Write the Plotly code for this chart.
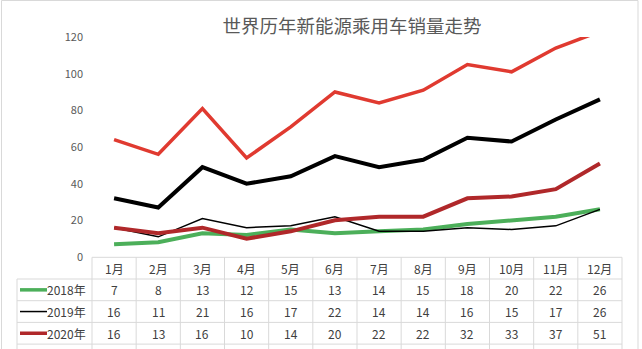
import plotly.graph_objects as go

months = ["1月", "2月", "3月", "4月", "5月", "6月", "7月", "8月", "9月", "10月", "11月", "12月"]
series_names = ["2018年", "2019年", "2020年", "2021年", "2022年"]
sales_2018 = [7, 8, 13, 12, 15, 13, 14, 15, 18, 20, 22, 26]
sales_2019 = [16, 11, 21, 16, 17, 22, 14, 14, 16, 15, 17, 26]
sales_2020 = [16, 13, 16, 10, 14, 20, 22, 22, 32, 33, 37, 51]
sales_2021 = [32, 27, 49, 40, 44, 55, 49, 53, 65, 63, 75, 86]
sales_2022 = [64, 56, 81, 54, 71, 90, 84, 91, 105, 101, 114, 123]
y_ticks = [0, 20, 40, 60, 80, 100, 120]

all_series = [sales_2018, sales_2019, sales_2020, sales_2021, sales_2022]
colors = ["#4caf5a", "#000000", "#b0282a", "#000000", "#e03a30"]
widths = [4, 1.5, 4, 4, 3.5]

W, H = 642, 349
ML, MR, MT, MB = 92, 20, 37, 92
PW, PH = W - ML - MR, H - MT - MB
FONT = "Noto Sans CJK SC, Noto Sans, sans-serif"
GRID = "#d9d9d9"
TXT = "#404040"

# number of table rows that fit on the page below the plot
TABLE_ROWS = 3


def px_x(px):
    return (px - ML) / PW


def px_y(py):
    return (H - MB - py) / PH


n = len(months)
col_w = PW / n
x_idx = list(range(n))

fig = go.Figure()
for name, vals, c, w in zip(series_names, all_series, colors, widths):
    fig.add_trace(go.Scatter(x=x_idx, y=vals, mode="lines", name=name,
                             line=dict(color=c, width=w), showlegend=False,
                             hoverinfo="skip"))

shapes = []
annotations = []

# data table below the plot
row_h = 21.7
top = H - MB + 0.3
row_tops = [top + i * row_h for i in range(TABLE_ROWS + 2)]
label_left = 17
right = ML + PW

# horizontal rules
shapes.append(dict(type="line", xref="paper", yref="paper",
                   x0=px_x(ML), x1=px_x(right), y0=px_y(row_tops[0]), y1=px_y(row_tops[0]),
                   line=dict(color=GRID, width=1)))
for rt in row_tops[1:]:
    shapes.append(dict(type="line", xref="paper", yref="paper",
                       x0=px_x(label_left), x1=px_x(right), y0=px_y(rt), y1=px_y(rt),
                       line=dict(color=GRID, width=1)))
# vertical rules
bottom = row_tops[-1] + 10
shapes.append(dict(type="line", xref="paper", yref="paper",
                   x0=px_x(label_left), x1=px_x(label_left), y0=px_y(row_tops[1]), y1=px_y(bottom),
                   line=dict(color=GRID, width=1)))
for k in range(n + 1):
    xx = ML + k * col_w
    shapes.append(dict(type="line", xref="paper", yref="paper",
                       x0=px_x(xx), x1=px_x(xx), y0=px_y(row_tops[0]), y1=px_y(bottom),
                       line=dict(color=GRID, width=1)))

# header row: month names
for i, m in enumerate(months):
    annotations.append(dict(xref="paper", yref="paper", x=(i + 0.5) / n,
                            y=px_y(row_tops[0] + row_h / 2), text=m, showarrow=False,
                            font=dict(family=FONT, size=12, color=TXT),
                            xanchor="center", yanchor="middle"))

# series rows: legend key, name and values
rows = list(zip(series_names, all_series, colors, widths))[:TABLE_ROWS]
for r, (name, vals, c, w) in enumerate(rows):
    cy = row_tops[r + 1] + row_h / 2
    shapes.append(dict(type="line", xref="paper", yref="paper",
                       x0=px_x(20), x1=px_x(47), y0=px_y(cy), y1=px_y(cy),
                       line=dict(color=c, width=min(w, 3.5))))
    annotations.append(dict(xref="paper", yref="paper", x=px_x(88), y=px_y(cy),
                            text=name, showarrow=False,
                            font=dict(family=FONT, size=12, color=TXT),
                            xanchor="right", yanchor="middle"))
    for i, v in enumerate(vals):
        annotations.append(dict(xref="paper", yref="paper", x=(i + 0.5) / n, y=px_y(cy),
                                text=str(v), showarrow=False,
                                font=dict(family=FONT, size=12, color=TXT),
                                xanchor="center", yanchor="middle"))

# chart-area border
shapes.append(dict(type="rect", xref="paper", yref="paper",
                   x0=px_x(1.5), x1=px_x(638), y0=px_y(0.5), y1=px_y(H + 20),
                   line=dict(color=GRID, width=1)))

fig.update_layout(
    width=W, height=H,
    margin=dict(l=ML, r=MR, t=MT, b=MB, pad=0),
    paper_bgcolor="white", plot_bgcolor="white",
    title=dict(text="世界历年新能源乘用车销量走势", x=px_x(352), xref="paper", xanchor="center",
               y=1 - 27 / H, yref="container", yanchor="middle",
               font=dict(family=FONT, size=18.5, color="#595959")),
    xaxis=dict(range=[-0.5, n - 0.5], showgrid=False, zeroline=False, showline=False,
               showticklabels=False, fixedrange=True),
    yaxis=dict(range=[0, 120], tickvals=y_ticks, showgrid=False, zeroline=False,
               showline=False, ticks="", ticklabelstandoff=8,
               tickfont=dict(family=FONT, size=11, color="#595959"), fixedrange=True),
    shapes=shapes, annotations=annotations,
)

fig.write_html("out.html", config={"displayModeBar": False})
